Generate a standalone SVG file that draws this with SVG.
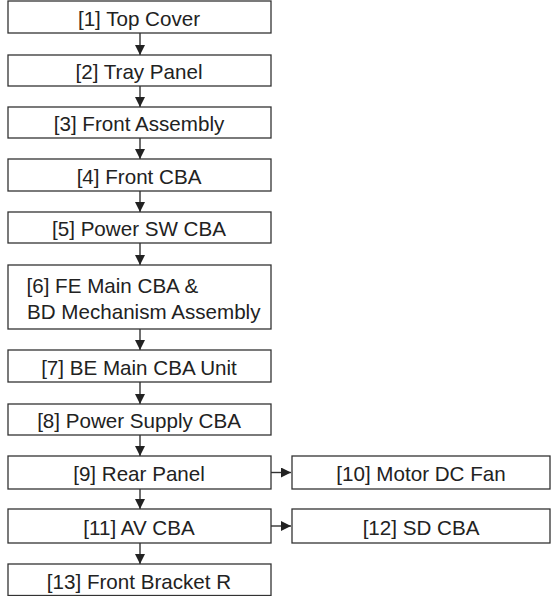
<svg xmlns="http://www.w3.org/2000/svg" width="551" height="596" viewBox="0 0 551 596">
<style>
.box{fill:#fff;stroke:#333;stroke-width:1.3}
.t{font-family:"Liberation Sans",Arial,sans-serif;font-size:20.6px;fill:#222;text-anchor:middle}
.tl{font-family:"Liberation Sans",Arial,sans-serif;font-size:20.6px;fill:#222}
.c{stroke:#333;stroke-width:1.4;fill:none}
</style>
<defs>
<marker id="ah" viewBox="0 0 10 10" refX="10" refY="5" markerWidth="10" markerHeight="10" markerUnits="userSpaceOnUse" orient="auto">
<path d="M0,0 L10,5 L0,10 Z" fill="#222"/>
</marker>
</defs>
<rect width="551" height="596" fill="#fff"/>
<g id="connectors">
<line class="c" x1="140" y1="33" x2="140" y2="55" marker-end="url(#ah)"/>
<line class="c" x1="140" y1="86" x2="140" y2="107" marker-end="url(#ah)"/>
<line class="c" x1="140" y1="138" x2="140" y2="159" marker-end="url(#ah)"/>
<line class="c" x1="140" y1="191" x2="140" y2="212" marker-end="url(#ah)"/>
<line class="c" x1="140" y1="243" x2="140" y2="265" marker-end="url(#ah)"/>
<line class="c" x1="140" y1="329" x2="140" y2="350" marker-end="url(#ah)"/>
<line class="c" x1="140" y1="382" x2="140" y2="404" marker-end="url(#ah)"/>
<line class="c" x1="140" y1="435" x2="140" y2="456" marker-end="url(#ah)"/>
<line class="c" x1="140" y1="489" x2="140" y2="509" marker-end="url(#ah)"/>
<line class="c" x1="140" y1="543" x2="140" y2="564" marker-end="url(#ah)"/>
<line class="c" x1="271" y1="472.5" x2="291" y2="472.5" marker-end="url(#ah)"/>
<line class="c" x1="271" y1="526" x2="291" y2="526" marker-end="url(#ah)"/>
</g>
<g id="n1"><rect class="box" x="8" y="1" width="263" height="32"/><text class="t" x="139" y="26">[1] Top Cover</text></g>
<g id="n2"><rect class="box" x="8" y="55" width="263" height="31"/><text class="t" x="139" y="79">[2] Tray Panel</text></g>
<g id="n3"><rect class="box" x="8" y="107" width="263" height="31"/><text class="t" x="139" y="131">[3] Front Assembly</text></g>
<g id="n4"><rect class="box" x="8" y="159" width="263" height="32"/><text class="t" x="139" y="183.5">[4] Front CBA</text></g>
<g id="n5"><rect class="box" x="8" y="212" width="263" height="31"/><text class="t" x="139" y="236">[5] Power SW CBA</text></g>
<g id="n6"><rect class="box" x="8" y="265" width="263" height="64"/><text class="tl" x="26.5" y="292.5">[6] FE Main CBA &amp;</text><text class="tl" x="27" y="319">BD Mechanism Assembly</text></g>
<g id="n7"><rect class="box" x="8" y="350" width="263" height="32"/><text class="t" x="139" y="374.5">[7] BE Main CBA Unit</text></g>
<g id="n8"><rect class="box" x="8" y="404" width="263" height="31"/><text class="t" x="139" y="428">[8] Power Supply CBA</text></g>
<g id="n9"><rect class="box" x="8" y="456" width="263" height="33"/><text class="t" x="139" y="481">[9] Rear Panel</text></g>
<g id="n10"><rect class="box" x="292" y="456" width="258" height="33"/><text class="t" x="421" y="481">[10] Motor DC Fan</text></g>
<g id="n11"><rect class="box" x="8" y="509" width="263" height="34"/><text class="t" x="139" y="534.5">[11] AV CBA</text></g>
<g id="n12"><rect class="box" x="292" y="509" width="258" height="34"/><text class="t" x="421" y="534.5">[12] SD CBA</text></g>
<g id="n13"><rect class="box" x="8" y="564" width="263" height="31.5"/><text class="t" x="139" y="588.5">[13] Front Bracket R</text></g>
</svg>
